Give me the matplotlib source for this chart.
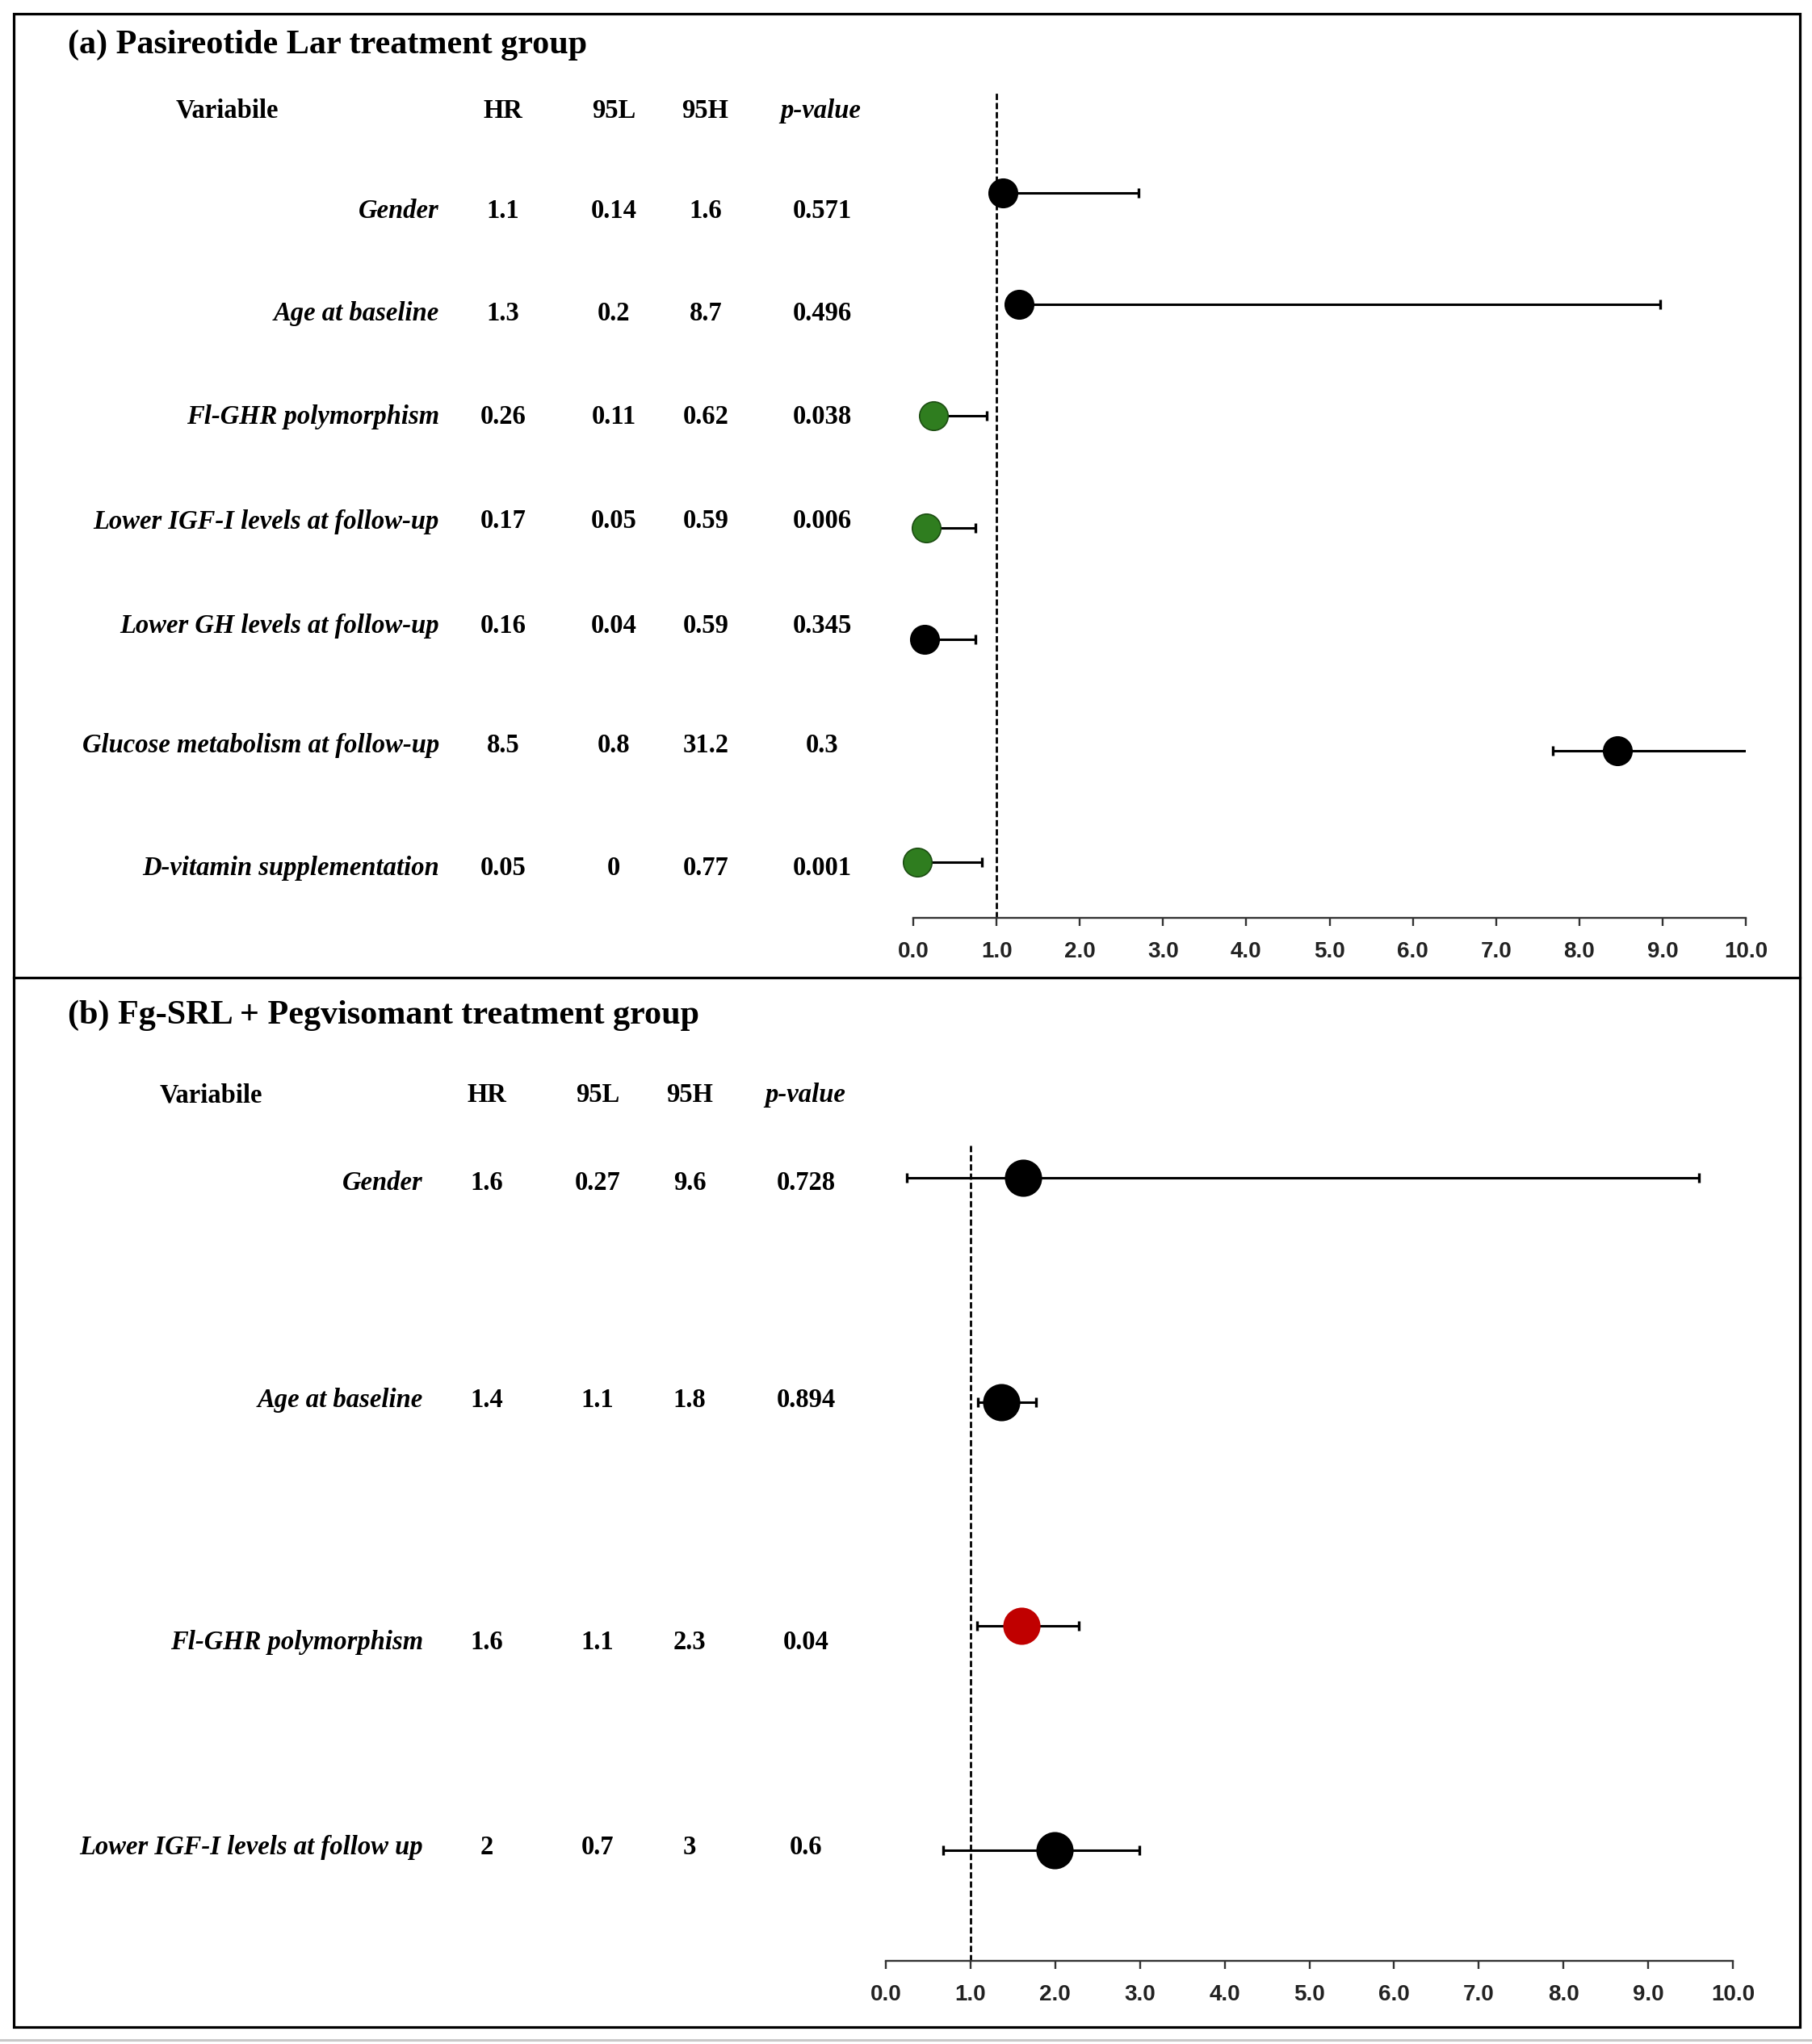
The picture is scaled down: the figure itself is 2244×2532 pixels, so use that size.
import matplotlib
matplotlib.use("Agg")
import matplotlib.pyplot as plt
from matplotlib.patches import Rectangle
from matplotlib.lines import Line2D

# ---------------- data ----------------
var_a = ["Gender", "Age at baseline", "Fl-GHR polymorphism",
         "Lower IGF-I levels at follow-up", "Lower GH levels at follow-up",
         "Glucose metabolism at follow-up", "D-vitamin supplementation"]
hr_a_txt = ["1.1", "1.3", "0.26", "0.17", "0.16", "8.5", "0.05"]
lo_a_txt = ["0.14", "0.2", "0.11", "0.05", "0.04", "0.8", "0"]
hi_a_txt = ["1.6", "8.7", "0.62", "0.59", "0.59", "31.2", "0.77"]
p_a_txt = ["0.571", "0.496", "0.038", "0.006", "0.345", "0.3", "0.001"]
# values as drawn in the forest plot
pt_a = [1.08, 1.27, 0.24, 0.16, 0.14, 8.46, 0.05]
lo_a = [1.00, 1.15, 0.24, 0.16, 0.14, 7.68, 0.05]
hi_a = [2.71, 8.97, 0.88, 0.75, 0.75, 10.5, 0.82]
sig_a = ["ns", "ns", "low", "low", "ns", "ns", "low"]

var_b = ["Gender", "Age at baseline", "Fl-GHR polymorphism",
         "Lower IGF-I levels at follow up"]
hr_b_txt = ["1.6", "1.4", "1.6", "2"]
lo_b_txt = ["0.27", "1.1", "1.1", "0.7"]
hi_b_txt = ["9.6", "1.8", "2.3", "3"]
p_b_txt = ["0.728", "0.894", "0.04", "0.6"]
pt_b = [1.62, 1.36, 1.60, 1.99]
lo_b = [0.25, 1.09, 1.08, 0.68]
hi_b = [9.60, 1.77, 2.28, 2.99]
sig_b = ["ns", "ns", "high", "ns"]

ticks = list(range(0, 11))
tick_labels = ["%.1f" % t for t in ticks]

title_a = "(a) Pasireotide Lar treatment group"
title_b = "(b) Fg-SRL + Pegvisomant treatment group"
headers = ["Variabile", "HR", "95L", "95H", "p-value"]

# ---------------- styling / layout ----------------
W, H = 2244, 2532
fill = {"ns": "#000000", "low": "#2f7d1f", "high": "#c00000"}
edge = {"ns": "#000000", "low": "#1c4d12", "high": "#c00000"}
SERIF = "Liberation Serif"
SANS = "Liberation Sans"
FS = 23.5

fig = plt.figure(figsize=(W / 100, H / 100), dpi=100)
fig.patch.set_facecolor("white")

tax = fig.add_axes([0, 0, 1, 1])
tax.set_xlim(0, W)
tax.set_ylim(H, 0)
tax.axis("off")

# outer frame and divider
tax.add_patch(Rectangle((17, 17), 2212, 2494, fill=False, lw=2.3,
                        edgecolor="black", zorder=1))
tax.add_line(Line2D([17, 2229], [1211, 1211], lw=2.3, color="black"))
tax.add_line(Line2D([0, W], [2527, 2527], lw=2.2, color="#c8c8c8"))


def px_axes(left, top, right, bottom):
    return fig.add_axes([left / W, 1 - bottom / H, (right - left) / W,
                         (bottom - top) / H])


def forest(ax, pts, los, his, sigs, ms, ylim):
    n = len(pts)
    rows = list(range(n))
    ax.set_xlim(0, 10)
    ax.set_ylim(*ylim)
    ax.patch.set_alpha(0)
    for s in ["top", "left", "right"]:
        ax.spines[s].set_visible(False)
    ax.spines["bottom"].set_bounds(0, 10)
    ax.spines["bottom"].set_linewidth(1.7)
    ax.spines["bottom"].set_color("#333333")
    ax.set_yticks([])
    ax.set_xticks(ticks)
    ax.set_xticklabels(tick_labels, fontfamily=SANS, fontweight="bold",
                       fontsize=20, color="#222222")
    ax.tick_params(axis="x", direction="out", length=7.2, width=1.7,
                   color="#333333", pad=14)
    ax.axvline(1.0, color="black", lw=2.0, dashes=(2.8, 1.3), zorder=1)
    ax.hlines(rows, los, his, color="black", lw=2.2, zorder=2)
    ax.plot(los, rows, ls="none", marker="|", ms=9, mew=2.4, color="black",
            zorder=2)
    ax.plot(his, rows, ls="none", marker="|", ms=9, mew=2.4, color="black",
            zorder=2)
    for r, x, s in zip(rows, pts, sigs):
        ax.plot([x], [r], ls="none", marker="o", ms=ms, mfc=fill[s],
                mec=edge[s], mew=1.2, zorder=3, clip_on=False)


# panel (a)
y0_a, step_a = 239.0, (1068.0 - 239.0) / 6
ax_a = px_axes(1131, 113, 2162, 1137)
forest(ax_a, pt_a, lo_a, hi_a, sig_a, 25.5,
       ((1137 - y0_a) / step_a, (113 - y0_a) / step_a))

# panel (b)
y0_b, step_b = 1459.0, (2292.0 - 1459.0) / 3
ax_b = px_axes(1097, 1417, 2146, 2429)
forest(ax_b, pt_b, lo_b, hi_b, sig_b, 32,
       ((2429 - y0_b) / step_b, (1417 - y0_b) / step_b))


def table(title, title_base, head_base, head_x, var_right, col_x, rows_base,
          names, cols):
    tax.text(84, title_base, title, fontfamily=SERIF, fontweight="bold",
             fontsize=30.3, ha="left", va="baseline")
    for i, h in enumerate(headers):
        tax.text(head_x[i], head_base, h, fontfamily=SERIF, fontweight="bold",
                 fontstyle="italic" if h == "p-value" else "normal",
                 fontsize=FS, ha="center", va="baseline")
    for r, yb in enumerate(rows_base):
        tax.text(var_right, yb, names[r], fontfamily=SERIF, fontweight="bold",
                 fontstyle="italic", fontsize=FS, ha="right", va="baseline")
        for c, col in enumerate(cols):
            tax.text(col_x[c], yb, col[r], fontfamily=SERIF,
                     fontweight="bold", fontsize=FS, ha="center",
                     va="baseline")


base_dy_a = [31, 20, 10, 1, -8, 2, 16]
rows_base_a = [y0_a + step_a * i + d for i, d in enumerate(base_dy_a)]
table(title_a, 66, 146, [281, 623, 760, 873, 1016], 544,
      [623, 760, 874, 1018], rows_base_a, var_a,
      [hr_a_txt, lo_a_txt, hi_a_txt, p_a_txt])

base_dy_b = [15, 6, 29, 5]
rows_base_b = [y0_b + step_b * i + d for i, d in enumerate(base_dy_b)]
table(title_b, 1268, 1365, [261, 603, 740, 854, 997], 524,
      [603, 740, 854, 998], rows_base_b, var_b,
      [hr_b_txt, lo_b_txt, hi_b_txt, p_b_txt])

fig.savefig("out.png", dpi=100, facecolor="white")
